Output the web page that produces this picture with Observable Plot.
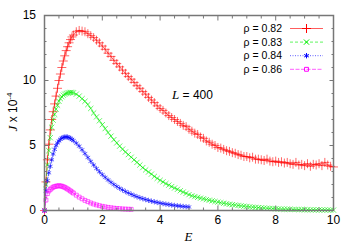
<!DOCTYPE html>
<html>
<head>
<meta charset="utf-8">
<script src="https://cdn.jsdelivr.net/npm/d3@7"></script>
<script src="https://cdn.jsdelivr.net/npm/@observablehq/plot@0.6"></script>
<style>
  html, body { margin: 0; padding: 0; background: #fff; }
  svg { display: block; }
</style>
</head>
<body>
<div id="chart"></div>
<script>
// E grid (x values)
const E = [
  0, 0.05, 0.1, 0.15, 0.2, 0.25, 0.3, 0.35, 0.4, 0.45, 0.5, 0.55, 0.6, 0.65, 0.7, 0.75, 0.8, 0.85, 0.9, 0.95, 1.0,
  1.1, 1.2, 1.3, 1.4, 1.5, 1.6, 1.7, 1.8, 1.9, 2.0,
  2.1, 2.2, 2.3, 2.4, 2.5, 2.6, 2.7, 2.8, 2.9, 3.0,
  3.1, 3.2, 3.3, 3.4, 3.5, 3.6, 3.7, 3.8, 3.9, 4.0,
  4.1, 4.2, 4.3, 4.4, 4.5, 4.6, 4.7, 4.8, 4.9, 5.0,
  5.1, 5.2, 5.3, 5.4, 5.5, 5.6, 5.7, 5.8, 5.9, 6.0,
  6.1, 6.2, 6.3, 6.4, 6.5, 6.6, 6.7, 6.8, 6.9, 7.0,
  7.1, 7.2, 7.3, 7.4, 7.5, 7.6, 7.7, 7.8, 7.9, 8.0,
  8.1, 8.2, 8.3, 8.4, 8.5, 8.6, 8.7, 8.8, 8.9, 9.0,
  9.1, 9.2, 9.3, 9.4, 9.5, 9.6, 9.7, 9.8, 9.9, 10.0
];

// J x 10^4 for rho = 0.82
const J082 = [
  0, 2.2, 3.9, 5.1, 6.2, 7.0, 7.6, 8.2, 8.8, 9.4, 10.0, 10.5, 11.0, 11.5, 11.9, 12.3, 12.6, 12.9, 13.15, 13.35, 13.5,
  13.75, 13.85, 13.8, 13.75, 13.6, 13.45, 13.3, 13.1, 12.9, 12.65,
  12.4, 12.1, 11.85, 11.55, 11.3, 11.05, 10.8, 10.55, 10.3, 10.1,
  9.85, 9.6, 9.4, 9.15, 8.95, 8.7, 8.5, 8.3, 8.05, 7.85,
  7.7, 7.5, 7.3, 7.15, 7.0, 6.85, 6.7, 6.55, 6.45, 6.25,
  6.1, 5.95, 5.85, 5.65, 5.55, 5.35, 5.25, 5.1, 5.0, 4.85,
  4.8, 4.7, 4.6, 4.55, 4.45, 4.4, 4.3, 4.25, 4.15, 4.15,
  4.05, 4.1, 3.95, 3.95, 3.9, 3.85, 3.95, 3.8, 3.75, 3.8,
  3.7, 3.75, 3.65, 3.7, 3.6, 3.55, 3.7, 3.5, 3.55, 3.45,
  3.6, 3.4, 3.55, 3.5, 3.6, 3.45, 3.7, 3.5, 3.4, 3.35
];

// rho = 0.83
const J083 = [
  0, 2.0, 3.5, 4.6, 5.6, 6.4, 6.95, 7.4, 7.8, 8.1, 8.4, 8.6, 8.75, 8.87, 8.95, 9.0, 9.04, 9.07, 9.08, 9.08, 9.05,
  8.95, 8.8, 8.6, 8.4, 8.15, 7.85, 7.5, 7.2, 6.9, 6.6,
  6.3, 6.0, 5.72, 5.45, 5.2, 4.95, 4.72, 4.5, 4.3, 4.1,
  3.9, 3.7, 3.5, 3.3, 3.12, 2.96, 2.8, 2.62, 2.47, 2.32,
  2.2, 2.07, 1.95, 1.84, 1.73, 1.63, 1.52, 1.42, 1.32, 1.22,
  1.13, 1.07, 1.01, 0.95, 0.9, 0.84, 0.79, 0.74, 0.69, 0.65,
  0.6, 0.56, 0.52, 0.48, 0.45, 0.42, 0.39, 0.36, 0.33, 0.31,
  0.28, 0.26, 0.24, 0.22, 0.2, 0.19, 0.17, 0.16, 0.15, 0.13,
  0.12, 0.11, 0.1, 0.1, 0.09, 0.08, 0.08, 0.07, 0.07, 0.06,
  0.06, 0.05, 0.05, 0.05, 0.04, 0.04, 0.04, 0.04, 0.03, 0.03
];

// rho = 0.84 (E up to 5)
const J084 = [
  0, 1.5, 2.3, 2.9, 3.4, 3.9, 4.35, 4.7, 5.0, 5.2, 5.35, 5.48, 5.57, 5.62, 5.65, 5.66, 5.65, 5.6, 5.55, 5.47, 5.38,
  5.18, 4.95, 4.67, 4.38, 4.08, 3.78, 3.5, 3.23, 2.98, 2.76,
  2.55, 2.35, 2.17, 2.0, 1.85, 1.71, 1.58, 1.46, 1.35, 1.25,
  1.15, 1.06, 0.98, 0.91, 0.84, 0.78, 0.72, 0.67, 0.62, 0.57,
  0.53, 0.49, 0.46, 0.42, 0.39, 0.36, 0.34, 0.31, 0.29, 0.27
];

// rho = 0.86 (E up to 3)
const J086 = [
  0, 0.8, 1.3, 1.5, 1.62, 1.72, 1.79, 1.84, 1.87, 1.89, 1.9, 1.89, 1.87, 1.83, 1.78, 1.72, 1.65, 1.58, 1.5, 1.42, 1.34,
  1.18, 1.03, 0.9, 0.78, 0.68, 0.58, 0.5, 0.43, 0.37, 0.32,
  0.28, 0.24, 0.21, 0.18, 0.16, 0.14, 0.12, 0.11, 0.1, 0.09
];

const seriesLabels = ["ρ = 0.82", "ρ = 0.83", "ρ = 0.84", "ρ = 0.86"];
const seriesValues = [J082, J083, J084, J086];
const xTicks = [0, 2, 4, 6, 8, 10];
const yTicks = [0, 5, 10, 15];
const xMinor = [0.5,1,1.5,2.5,3,3.5,4.5,5,5.5,6.5,7,7.5,8.5,9,9.5];
const yMinor = [1,2,3,4,6,7,8,9,11,12,13,14];

const colors = ["#ff0000", "#00ee00", "#0000ff", "#ff00ff"];
const symbols = ["plus", "times", "asterisk", "square"];
const dashes = [null, "3,2", "1,1.5", "4,1.5"];
const radii = [3.0, 2.5, 2.5, 2.2];

const rows = seriesValues.map((vals, s) => vals.map((j, i) => ({E: E[i], J: j, s})));

const marks = [];
rows.forEach((data, s) => {
  marks.push(Plot.line(data, {x: "E", y: "J", stroke: colors[s], strokeWidth: 0.8, strokeDasharray: dashes[s], strokeOpacity: 0.8}));
});
rows.forEach((data, s) => {
  marks.push(Plot.dot(data, {x: "E", y: "J", symbol: symbols[s], r: radii[s], stroke: colors[s], fill: "none", strokeWidth: 1, strokeOpacity: 0.6}));
});

marks.push(
  Plot.frame({stroke: "#777", strokeWidth: 1.5}),
  Plot.axisX(xTicks, {anchor: "bottom", tickSize: -4.5, tickPadding: 9, stroke: "#777", label: null, fontSize: 12}),
  Plot.axisX(xMinor, {anchor: "bottom", tickSize: -2.5, text: null, stroke: "#777", label: null}),
  Plot.axisX(xTicks, {anchor: "top", tickSize: -4.5, text: null, stroke: "#777", label: null}),
  Plot.axisX(xMinor, {anchor: "top", tickSize: -2.5, text: null, stroke: "#777", label: null}),
  Plot.axisY(yTicks, {anchor: "left", tickSize: -4.5, tickPadding: 13, stroke: "#777", label: null, fontSize: 12}),
  Plot.axisY(yMinor, {anchor: "left", tickSize: -2.5, text: null, stroke: "#777", label: null}),
  Plot.axisY(yTicks, {anchor: "right", tickSize: -4.5, text: null, stroke: "#777", label: null}),
  Plot.axisY(yMinor, {anchor: "right", tickSize: -2.5, text: null, stroke: "#777", label: null})
);

const svg = Plot.plot({
  width: 354,
  height: 248,
  marginLeft: 44,
  marginRight: 21,
  marginTop: 15,
  marginBottom: 38,
  style: {fontFamily: "'Liberation Sans', Arial, sans-serif", fontSize: "12px", color: "#000", background: "#fff"},
  x: {domain: [0, 10]},
  y: {domain: [0, 15]},
  marks
});

const g = d3.select(svg);
// axis titles
g.append("text")
  .attr("x", 188.5).attr("y", 241)
  .attr("text-anchor", "middle")
  .attr("font-family", "'Liberation Serif', 'Times New Roman', serif")
  .attr("font-style", "italic").attr("font-size", 13)
  .text("E");

const yl = g.append("text")
  .attr("transform", "translate(17,112) rotate(-90)")
  .attr("text-anchor", "middle")
  .attr("font-size", 12);
yl.append("tspan").attr("font-family", "'Liberation Serif', serif").attr("font-style", "italic").attr("font-size", 13).text("J");
yl.append("tspan").text(" x 10");
yl.append("tspan").attr("font-size", 8).attr("dy", -5).text("-4");

// L = 400 annotation
const la = g.append("text").attr("x", 172).attr("y", 99).attr("font-size", 12).attr("text-anchor", "start");
la.append("tspan").attr("font-family", "'Liberation Serif', serif").attr("font-style", "italic").attr("font-size", 13).text("L");
la.append("tspan").text(" = 400");

// legend
const legend = g.append("g");
seriesLabels.forEach((lab, s) => {
  const cy = 28.5 + s * 13.6;
  legend.append("text").attr("x", 282).attr("y", cy).attr("dy", "0.35em")
    .attr("text-anchor", "end").attr("font-size", 10.5).text(lab);
  legend.append("line").attr("x1", 290).attr("x2", 323).attr("y1", cy).attr("y2", cy)
    .attr("stroke", colors[s]).attr("stroke-width", 0.8).attr("stroke-dasharray", dashes[s]).attr("stroke-opacity", 0.8);
  const sym = {plus: d3.symbolPlus, times: d3.symbolTimes, asterisk: d3.symbolAsterisk, square: d3.symbolSquare}[symbols[s]];
  legend.append("path").attr("transform", `translate(306.5,${cy})`)
    .attr("d", d3.symbol(sym, Math.PI * radii[s] * radii[s])())
    .attr("fill", "none").attr("stroke", colors[s]).attr("stroke-width", 1);
});

document.getElementById("chart").appendChild(svg);
</script>
</body>
</html>
